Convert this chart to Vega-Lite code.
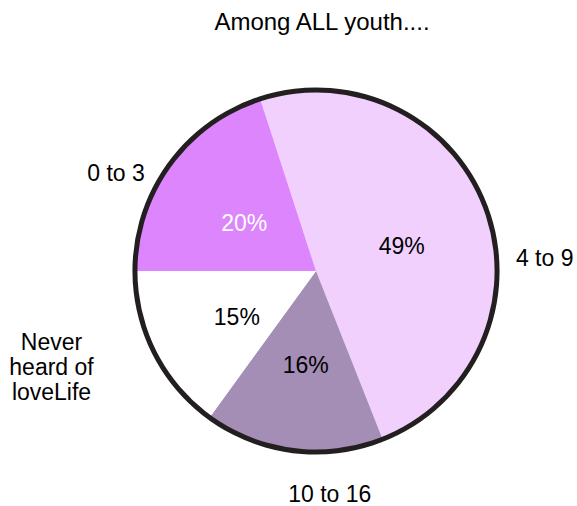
{
  "$schema": "https://vega.github.io/schema/vega-lite/v6.json",
  "width": 522,
  "height": 470,
  "autosize": {"type": "none"},
  "padding": {"left": 55, "top": 36, "right": 0, "bottom": 0},
  "background": "white",
  "config": {"view": {"stroke": null}, "font": "Liberation Sans"},
  "title": {"text": "Among ALL youth....", "font": "Liberation Sans", "fontSize": 24, "fontWeight": "normal", "color": "black", "anchor": "middle", "dx": 6, "dy": 5, "offset": 6},
  "data": {"values": [
    {"cat": "4 to 9", "share": 0.49, "seq": 1, "label": "4 to 9"},
    {"cat": "10 to 16", "share": 0.16, "seq": 2, "label": "10 to 16"},
    {"cat": "Never heard of loveLife", "share": 0.15, "seq": 3, "label": "Never\nheard of\nloveLife"},
    {"cat": "0 to 3", "share": 0.20, "seq": 4, "label": "0 to 3"}
  ]},
  "layer": [
    {
      "mark": {"type": "arc", "radius": 181, "strokeWidth": 0},
      "encoding": {
        "theta": {"field": "share", "type": "quantitative", "stack": true, "scale": {"range": [-0.314159, 5.969026]}},
        "order": {"field": "seq", "type": "quantitative"},
        "color": {"field": "cat", "type": "nominal", "legend": null,
          "scale": {"domain": ["4 to 9", "10 to 16", "Never heard of loveLife", "0 to 3"], "range": ["#f2d0fe", "#a48eb5", "#ffffff", "#dc85fc"]}}
      }
    },
    {
      "transform": [{"aggregate": [{"op": "sum", "field": "share", "as": "share"}]}],
      "mark": {"type": "arc", "radius": 183.5, "radius2": 178.5, "fill": "#231f20", "strokeWidth": 0},
      "encoding": {
        "theta": {"field": "share", "type": "quantitative", "stack": true}
      }
    },
    {
      "mark": {"type": "text", "radius": 90, "fontSize": 23, "dx": 1, "dy": 6},
      "encoding": {
        "theta": {"field": "share", "type": "quantitative", "stack": true},
        "order": {"field": "seq", "type": "quantitative"},
        "text": {"field": "share", "type": "quantitative", "format": ".0%"},
        "color": {"condition": {"test": "datum.cat === '0 to 3'", "value": "white"}, "value": "black"}
      }
    },
    {
      "mark": {"type": "text", "radius": 225, "fontSize": 23, "color": "black", "dx": 17, "dy": 64},
      "encoding": {
        "theta": {"field": "share", "type": "quantitative", "stack": true},
        "order": {"field": "seq", "type": "quantitative"},
        "text": {"condition": {"test": "datum.cat === '4 to 9'", "field": "label"}, "value": ""}
      }
    },
    {
      "mark": {"type": "text", "radius": 225, "fontSize": 23, "color": "black", "dx": 42, "dy": 1},
      "encoding": {
        "theta": {"field": "share", "type": "quantitative", "stack": true},
        "order": {"field": "seq", "type": "quantitative"},
        "text": {"condition": {"test": "datum.cat === '10 to 16'", "field": "label"}, "value": ""}
      }
    },
    {
      "mark": {"type": "text", "radius": 225, "fontSize": 23, "color": "black", "lineBreak": "\n", "lineHeight": 25, "dx": -64, "dy": -30},
      "encoding": {
        "theta": {"field": "share", "type": "quantitative", "stack": true},
        "order": {"field": "seq", "type": "quantitative"},
        "text": {"condition": {"test": "datum.cat === 'Never heard of loveLife'", "field": "label"}, "value": ""}
      }
    },
    {
      "mark": {"type": "text", "radius": 225, "fontSize": 23, "color": "black", "dx": -18, "dy": 35},
      "encoding": {
        "theta": {"field": "share", "type": "quantitative", "stack": true},
        "order": {"field": "seq", "type": "quantitative"},
        "text": {"condition": {"test": "datum.cat === '0 to 3'", "field": "label"}, "value": ""}
      }
    }
  ]
}
